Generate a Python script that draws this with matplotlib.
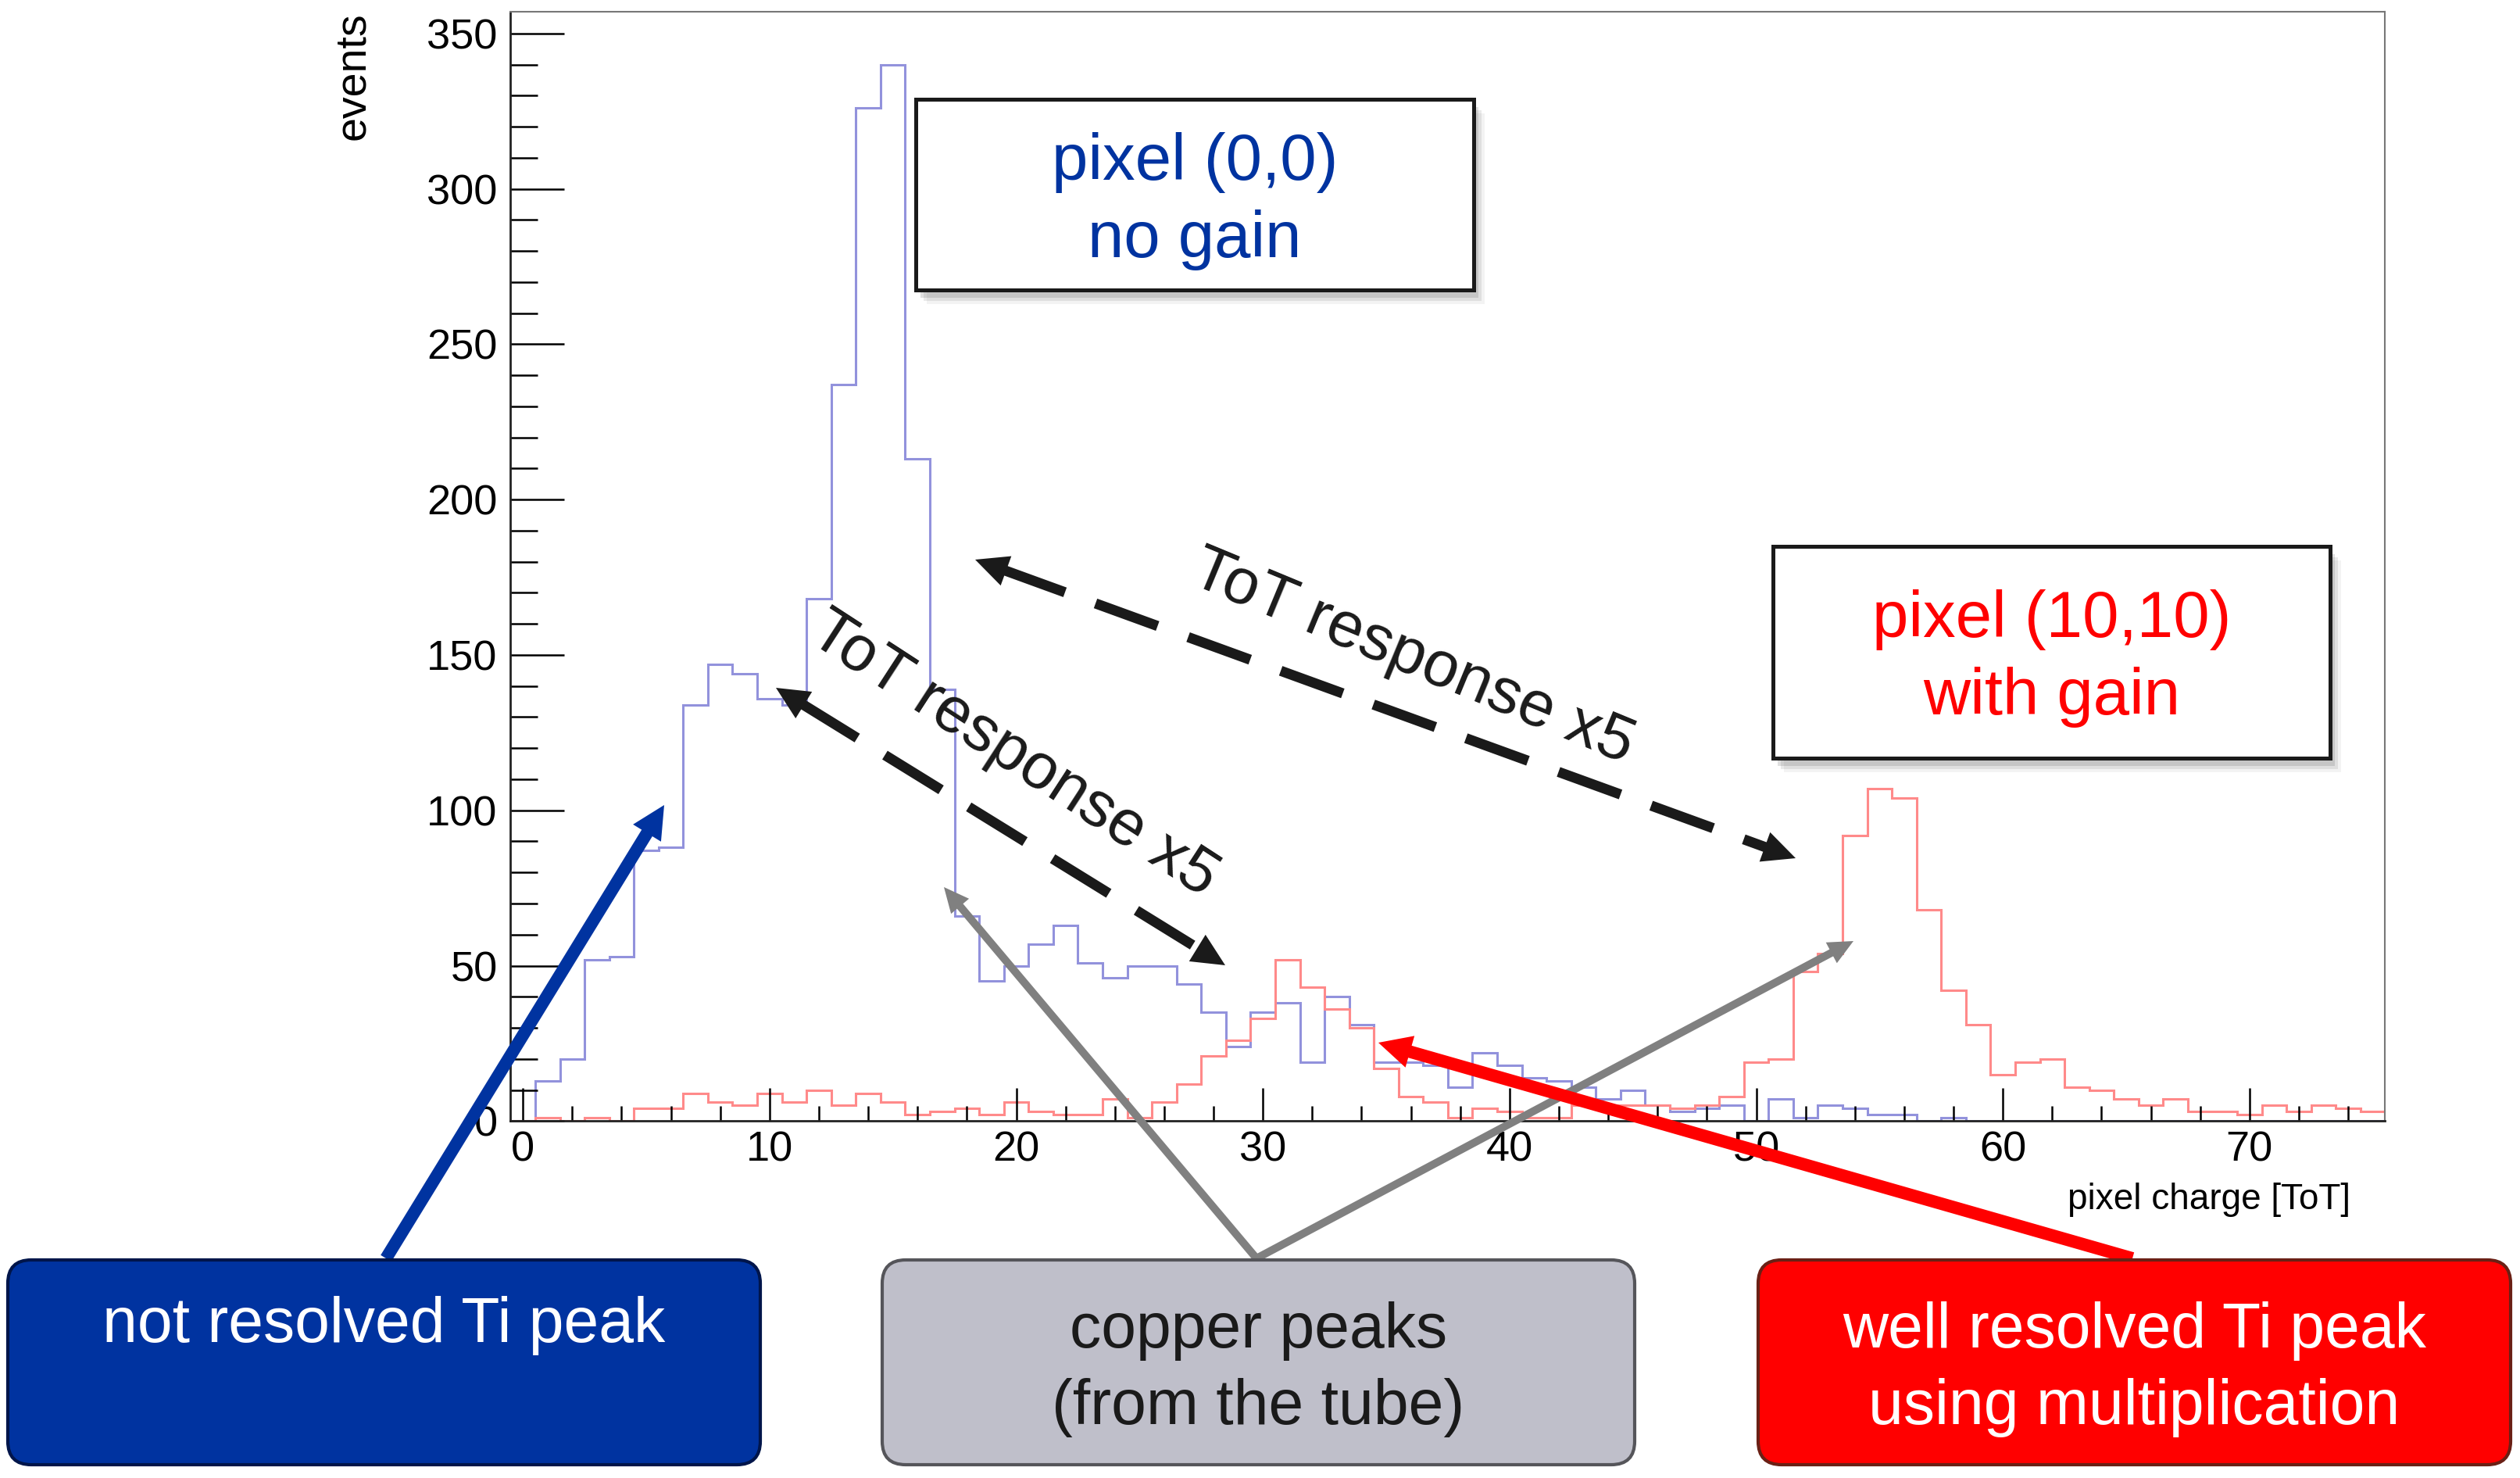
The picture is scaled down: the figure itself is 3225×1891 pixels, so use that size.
import numpy as np
import matplotlib
matplotlib.use("Agg")
import matplotlib.pyplot as plt
from matplotlib.patches import Polygon, Rectangle, FancyBboxPatch
from matplotlib.ticker import MultipleLocator

plt.rcParams['font.family'] = ['Liberation Sans', 'DejaVu Sans']

# histogram contents, one bin per ToT value 0..75
tot = np.arange(0, 76)
edges = np.arange(-0.5, 76.5, 1)
no_gain = [0, 13, 20, 52, 53, 87, 88, 134, 147, 144,
           136, 134, 168, 237, 326, 340, 213, 139, 66, 45,
           50, 57, 63, 51, 46, 50, 50, 44, 35, 24,
           35, 38, 19, 40, 31, 19, 19, 18, 11, 22,
           18, 14, 13, 11, 7, 10, 5, 3, 4, 5,
           0, 7, 1, 5, 4, 2, 2, 0, 1, 0,
           0, 0, 0, 0, 0, 0, 0, 0, 0, 0,
           0, 0, 0, 0, 0, 0]
with_gain = [0, 1, 0, 1, 0, 4, 4, 9, 6, 5,
             9, 6, 10, 5, 9, 6, 2, 3, 4, 2,
             6, 3, 2, 2, 7, 1, 6, 12, 21, 26,
             33, 52, 43, 36, 30, 17, 8, 6, 1, 4,
             3, 1, 1, 5, 5, 5, 5, 4, 5, 8,
             19, 20, 48, 54, 92, 107, 104, 68, 42, 31,
             15, 19, 20, 11, 10, 7, 5, 7, 3, 3,
             2, 5, 3, 5, 4, 3]

W, H = 3225, 1891
fig = plt.figure(figsize=(W / 100, H / 100), dpi=100)
ax = fig.add_axes([0.2026, 0.2415, 0.7439, 0.7506])

ax.stairs(no_gain, edges, color='#9292dc', lw=2.2)
ax.stairs(with_gain, edges, color='#ff8a8a', lw=2.2)

ax.set_xlim(-0.5, 75.5)
ax.set_ylim(0, 357)
ax.xaxis.set_major_locator(MultipleLocator(10))
ax.xaxis.set_minor_locator(MultipleLocator(2))
ax.yaxis.set_major_locator(MultipleLocator(50))
ax.yaxis.set_minor_locator(MultipleLocator(10))
ax.tick_params(axis='y', which='major', direction='in', length=50, width=1.8, labelsize=39, pad=12)
ax.tick_params(axis='y', which='minor', direction='in', length=25, width=1.8)
ax.tick_params(axis='x', which='major', direction='in', length=30, width=1.8, labelsize=39, pad=9)
ax.tick_params(axis='x', which='minor', direction='in', length=14, width=1.8)
for s in ['left', 'bottom']:
    ax.spines[s].set_color('#222222')
    ax.spines[s].set_linewidth(2)
for s in ['top', 'right']:
    ax.spines[s].set_color('#777777')
    ax.spines[s].set_linewidth(1.5)

# overlay in picture pixels for the annotations
ov = fig.add_axes([0, 0, 1, 1], zorder=5)
ov.set_xlim(0, W)
ov.set_ylim(H, 0)
ov.axis('off')
ov.patch.set_alpha(0)

ov.text(452, 15, 'events', rotation=90, ha='center', va='top', fontsize=40)
ov.text(3008, 1547, 'pixel charge [ToT]', ha='right', va='baseline', fontsize=33)


def draw_arrow(p0, p1, color, width, head_len, head_w, dashed=False, double=False):
    p0 = np.array(p0, float)
    p1 = np.array(p1, float)
    d = (p1 - p0) / np.hypot(*(p1 - p0))
    n = np.array([-d[1], d[0]])
    a = p0 + d * head_len * 0.9 if double else p0
    b = p1 - d * head_len * 0.9
    ls = (0, (6.5, 3.2)) if dashed else '-'
    ov.plot([a[0], b[0]], [a[1], b[1]], color=color, lw=width * 0.72, ls=ls,
            solid_capstyle='butt', dash_capstyle='butt', zorder=3)
    tips = [(p1, -d)] + ([(p0, d)] if double else [])
    for tip, back in tips:
        base = tip + back * head_len
        ov.add_patch(Polygon([tip, base + n * head_w / 2, base - n * head_w / 2],
                             closed=True, color=color, lw=0, zorder=3))


def label_box(x0, y0, x1, y1, lines, color):
    for k, a in [(6, 0.18), (10, 0.12), (14, 0.07)]:
        ov.add_patch(Rectangle((x0 + k, y0 + k + 4), x1 - x0, y1 - y0,
                               color='#555555', alpha=a, lw=0, zorder=1))
    ov.add_patch(Rectangle((x0, y0), x1 - x0, y1 - y0, facecolor='white',
                           edgecolor='#1a1a1a', lw=3.6, zorder=2))
    for txt, yb in lines:
        ov.text((x0 + x1) / 2, yb, txt, color=color, fontsize=60,
                ha='center', va='baseline', zorder=3)


label_box(1172, 127, 1886, 371, [('pixel (0,0)', 230), ('no gain', 329)], '#0033a0')
label_box(2269, 699, 2982, 970, [('pixel (10,10)', 815), ('with gain', 914)], '#ff0000')

# ToT response arrows
draw_arrow((1248, 716), (2298, 1098), '#1a1a1a', 13, 42, 40, dashed=True, double=True)
draw_arrow((993, 880), (1568, 1235), '#1a1a1a', 13, 42, 40, dashed=True, double=True)
ov.text(1808, 842, 'ToT response x5', rotation=-22.5, ha='center', va='center',
        fontsize=59, color='#1a1a1a', rotation_mode='anchor')
ov.text(1297, 966, 'ToT response x5', rotation=-33, ha='center', va='center',
        fontsize=59, color='#1a1a1a', rotation_mode='anchor')

# pointers from the boxes below
draw_arrow((494, 1610), (850, 1030), '#0033a0', 16, 42, 42)
draw_arrow((1608, 1610), (1208, 1135), '#808080', 10, 32, 30)
draw_arrow((1608, 1610), (2372, 1204), '#808080', 10, 32, 30)
draw_arrow((2729, 1610), (1764, 1334), '#ff0000', 16, 42, 42)

boxes = [
    (10, 973, '#0033a0', '#00154a', [('not resolved Ti peak', 1696)], 'white'),
    (1129, 2092, '#bfbfca', '#55555a', [('copper peaks', 1703), ('(from the tube)', 1801)], '#1a1a1a'),
    (2250, 3213, '#ff0000', '#6a2015', [('well resolved Ti peak', 1703), ('using multiplication', 1801)], 'white'),
]
for x0, x1, fc, ec, lines, tc in boxes:
    ov.add_patch(FancyBboxPatch((x0, 1612), x1 - x0, 262,
                                boxstyle='round,pad=0,rounding_size=30',
                                facecolor=fc, edgecolor=ec, lw=3, zorder=4))
    for txt, yc in lines:
        ov.text((x0 + x1) / 2, yc, txt, color=tc, fontsize=58,
                ha='center', va='center', zorder=5)

fig.savefig('out.png', dpi=100)
